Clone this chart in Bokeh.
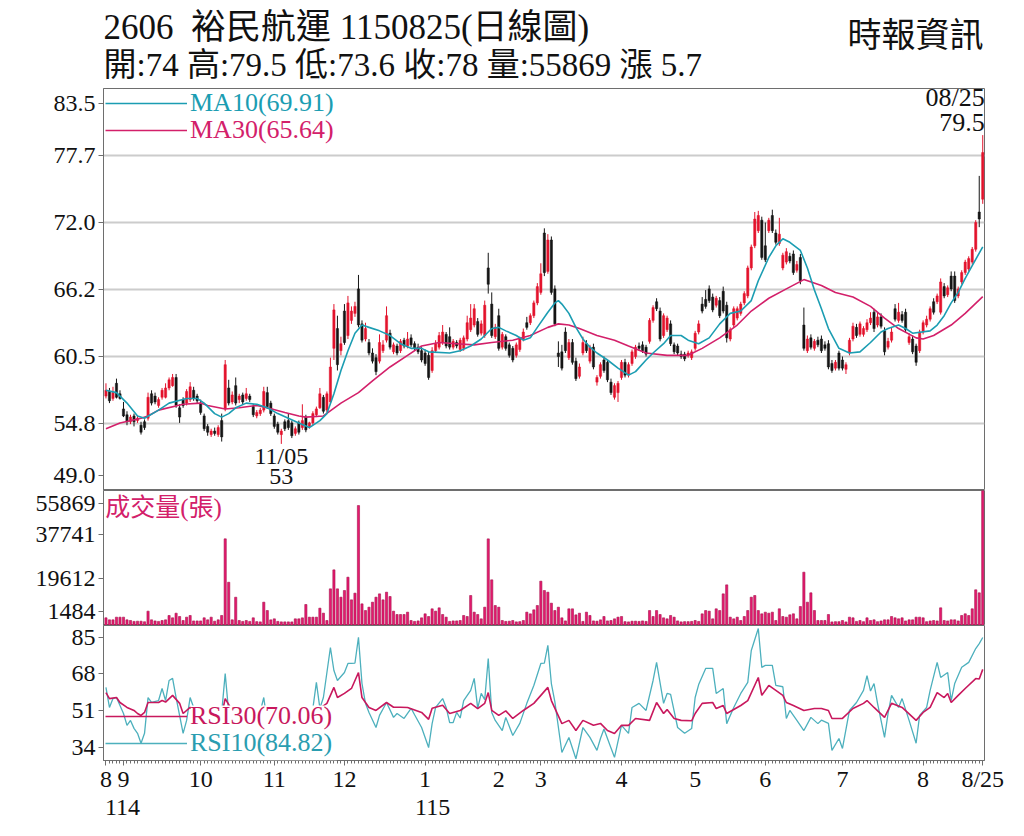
import numpy as np
from bokeh.plotting import figure
from bokeh.layouts import column
from bokeh.models import (ColumnDataSource, Range1d, FixedTicker, Legend,
                          LegendItem, BoxAnnotation, Label)
from bokeh.core.properties import value
from bokeh.embed import file_html
from bokeh.resources import INLINE

# ---- data ---------------------------------------------------------------
stock_code = "2606"
stock_name = "裕民航運"
chart_date = "1150825"
source_name = "時報資訊"
low_date = "11/05"
high_date = "08/25"

opens = [
    57.1, 57.5, 56.9, 58.2, 57.3, 56.0, 55.5, 54.9, 55.4, 55.0,
    54.6, 54.9, 55.2, 57.3, 57.1, 56.3, 57.0, 57.0, 57.8, 58.0,
    58.7, 56.1, 56.8, 56.5, 56.8, 57.6, 57.1, 56.5, 55.4, 54.5,
    53.8, 54.1, 53.8, 55.0, 56.0, 57.8, 56.6, 58.0, 56.8, 57.2,
    56.9, 57.1, 56.2, 55.4, 55.6, 55.9, 57.4, 56.5, 55.4, 54.7,
    53.8, 54.9, 55.0, 54.8, 53.9, 54.8, 54.4, 55.3, 54.5, 54.8,
    55.5, 56.1, 57.0, 55.9, 56.6, 61.2, 62.9, 61.0, 64.4, 62.3,
    63.6, 64.2, 66.3, 63.3, 62.0, 61.7, 60.8, 60.4, 60.1, 61.0,
    61.9, 62.5, 60.9, 61.4, 61.0, 61.9, 61.4, 62.1, 61.6, 61.3,
    61.0, 60.8, 60.6, 59.3, 61.0, 61.3, 61.7, 62.4, 62.2, 61.3,
    61.7, 61.1, 61.2, 62.0, 62.8, 63.2, 63.5, 62.5, 62.3, 68.1,
    65.0, 62.2, 64.0, 61.3, 62.2, 61.5, 61.2, 60.6, 61.1, 62.0,
    63.4, 63.4, 64.0, 65.1, 66.0, 71.1, 67.8, 70.5, 66.3, 60.8,
    60.9, 62.6, 60.4, 61.7, 60.1, 58.8, 60.8, 61.6, 60.1, 61.3,
    58.3, 58.8, 60.2, 60.0, 58.3, 57.0, 57.4, 58.7, 60.0, 58.9,
    59.9, 60.5, 61.4, 61.5, 61.3, 61.8, 63.6, 65.2, 64.4, 62.3,
    62.8, 63.3, 61.5, 61.4, 60.7, 60.7, 60.6, 60.4, 61.2, 62.6,
    65.0, 65.4, 66.3, 65.6, 64.9, 65.3, 66.1, 64.9, 62.0, 63.2,
    63.8, 64.2, 65.1, 65.7, 68.1, 70.0, 71.3, 72.2, 70.0, 71.3,
    72.6, 71.1, 70.2, 68.1, 68.6, 69.1, 69.3, 67.9, 69.0, 63.2,
    61.0, 62.1, 61.2, 61.9, 62.0, 61.5, 61.6, 59.9, 59.5, 60.8,
    60.2, 59.4, 60.8, 62.0, 63.0, 62.4, 62.4, 62.8, 63.4, 64.3,
    63.2, 63.9, 62.7, 61.3, 61.9, 64.6, 63.6, 64.1, 64.3, 61.7,
    62.0, 61.4, 61.0, 62.6, 63.2, 63.7, 65.2, 65.2, 64.3, 66.5,
    65.8, 67.4, 67.4, 65.7, 66.9, 67.7, 68.0, 68.6, 69.7, 72.9,
    74.0]
highs = [
    58.2, 57.8, 57.9, 58.6, 57.6, 56.6, 55.8, 55.5, 55.6, 55.4,
    54.9, 55.1, 57.4, 57.6, 57.4, 57.0, 57.8, 58.2, 58.7, 59.0,
    59.0, 56.4, 57.0, 57.7, 58.3, 57.9, 57.3, 56.8, 55.6, 54.7,
    54.3, 54.4, 54.6, 55.6, 60.2, 58.5, 57.5, 58.7, 57.3, 57.4,
    57.8, 57.3, 56.4, 55.9, 56.1, 57.9, 57.9, 56.7, 55.6, 54.9,
    54.3, 55.1, 55.6, 55.0, 54.5, 55.0, 56.4, 55.5, 54.9, 55.8,
    56.2, 57.8, 57.2, 57.5, 60.4, 65.0, 64.0, 62.2, 65.0, 65.7,
    64.8, 65.2, 67.5, 63.6, 63.4, 62.0, 61.2, 60.7, 62.4, 61.9,
    64.8, 62.8, 61.7, 61.6, 62.0, 62.1, 62.6, 62.4, 61.8, 61.6,
    61.3, 61.1, 60.9, 61.3, 61.9, 62.6, 63.2, 62.6, 63.0, 62.0,
    61.9, 62.1, 62.3, 64.0, 65.0, 65.0, 63.8, 63.6, 65.3, 69.4,
    66.0, 63.3, 64.6, 62.6, 62.4, 61.7, 61.4, 61.7, 62.2, 62.9,
    63.9, 64.2, 65.3, 66.8, 68.5, 71.5, 71.0, 70.8, 66.6, 61.8,
    61.5, 63.0, 62.0, 62.0, 60.4, 59.9, 62.2, 61.9, 61.5, 61.6,
    58.9, 60.0, 60.5, 60.2, 58.6, 58.2, 58.4, 60.2, 60.3, 60.0,
    61.1, 61.5, 61.7, 61.8, 61.5, 63.8, 64.9, 65.5, 64.7, 64.2,
    64.0, 63.6, 61.7, 61.6, 61.0, 60.9, 61.0, 61.1, 62.7, 63.6,
    65.6, 66.2, 66.6, 65.9, 65.7, 65.6, 66.5, 65.2, 63.0, 64.8,
    64.8, 65.2, 66.1, 68.3, 70.1, 72.9, 73.0, 72.5, 72.0, 72.4,
    73.1, 71.4, 72.4, 69.4, 69.8, 69.4, 69.6, 68.7, 69.3, 64.7,
    62.3, 62.4, 62.0, 62.2, 62.3, 61.8, 61.9, 60.2, 60.2, 61.0,
    60.5, 60.0, 62.1, 63.4, 63.3, 63.5, 63.1, 63.7, 64.3, 64.6,
    64.3, 64.2, 63.0, 62.1, 63.0, 65.0, 65.1, 64.4, 64.6, 62.5,
    62.3, 61.6, 62.8, 63.6, 64.0, 64.8, 65.5, 65.9, 67.2, 66.8,
    66.6, 67.8, 67.8, 66.5, 67.9, 68.8, 69.1, 69.9, 72.2, 76.0,
    79.5]
lows = [
    56.9, 56.5, 56.7, 56.9, 56.8, 55.3, 54.6, 54.7, 54.5, 54.8,
    53.8, 54.2, 55.0, 56.3, 56.4, 56.1, 56.8, 56.9, 57.6, 57.9,
    56.1, 54.8, 56.1, 56.3, 56.6, 56.7, 56.5, 55.5, 54.1, 53.7,
    53.6, 53.7, 53.6, 53.2, 55.8, 56.3, 56.4, 56.3, 56.5, 56.4,
    56.7, 56.6, 55.3, 55.2, 55.4, 55.7, 56.0, 55.4, 54.3, 53.8,
    53.0, 54.1, 54.2, 53.5, 53.7, 53.8, 54.2, 54.0, 54.3, 54.6,
    55.3, 56.0, 55.6, 55.7, 56.4, 60.2, 59.3, 60.6, 61.5, 62.0,
    63.3, 63.9, 63.0, 61.7, 61.8, 60.6, 59.9, 58.9, 59.9, 60.8,
    61.7, 61.1, 60.7, 60.6, 60.8, 61.2, 61.2, 61.3, 61.0, 60.7,
    60.0, 59.7, 58.5, 59.1, 60.8, 61.1, 61.5, 61.2, 61.1, 61.1,
    61.2, 60.9, 61.0, 61.8, 62.6, 63.0, 62.2, 62.3, 62.1, 65.9,
    62.1, 62.0, 61.0, 61.1, 61.0, 60.4, 60.0, 60.4, 60.9, 61.8,
    62.8, 63.2, 63.8, 64.9, 65.8, 67.4, 67.6, 65.8, 63.1, 59.6,
    59.3, 60.8, 60.2, 59.8, 58.4, 58.6, 60.6, 60.8, 59.9, 59.4,
    58.0, 58.6, 59.1, 58.3, 57.2, 56.8, 56.6, 58.5, 58.7, 58.7,
    59.7, 60.3, 61.0, 60.8, 60.5, 61.6, 63.4, 64.4, 61.8, 62.1,
    62.6, 61.4, 60.7, 60.6, 60.3, 60.1, 60.4, 60.2, 61.0, 62.4,
    64.2, 64.6, 65.1, 64.3, 64.7, 63.8, 64.2, 61.7, 61.8, 63.0,
    63.6, 64.0, 64.9, 65.5, 67.9, 69.8, 71.1, 68.8, 68.6, 71.1,
    71.1, 70.1, 70.0, 67.9, 68.4, 68.5, 67.5, 67.7, 66.7, 61.0,
    60.8, 61.1, 61.0, 61.3, 60.8, 61.0, 59.4, 59.1, 59.3, 59.3,
    59.3, 59.0, 60.6, 61.8, 62.1, 62.2, 62.2, 62.6, 63.2, 62.6,
    63.0, 62.9, 60.6, 61.1, 61.7, 63.5, 63.4, 63.4, 62.6, 61.5,
    60.7, 59.7, 60.8, 62.4, 63.0, 63.5, 64.1, 65.0, 64.1, 65.5,
    65.6, 66.1, 65.1, 65.5, 66.7, 67.5, 67.8, 68.4, 69.5, 71.6,
    73.6]
closes = [
    57.6, 56.7, 57.4, 57.0, 56.9, 55.4, 54.9, 55.3, 54.9, 55.2,
    54.0, 54.4, 57.0, 56.5, 56.6, 56.8, 57.6, 57.8, 58.5, 58.7,
    56.3, 55.3, 56.3, 57.5, 57.9, 56.9, 56.7, 55.7, 54.3, 54.0,
    54.1, 53.9, 54.4, 53.6, 59.8, 56.5, 57.2, 56.5, 57.1, 56.6,
    57.3, 56.8, 55.5, 55.7, 55.9, 57.5, 56.2, 55.6, 54.5, 54.0,
    54.1, 54.3, 54.4, 53.7, 54.3, 54.0, 55.0, 54.2, 54.8, 55.6,
    56.0, 57.3, 55.8, 57.3, 59.6, 64.5, 59.8, 61.6, 61.7, 65.1,
    64.4, 64.8, 63.2, 61.9, 62.9, 60.8, 60.1, 59.2, 61.7, 61.5,
    64.0, 61.3, 61.5, 60.8, 61.8, 61.4, 62.0, 61.5, 61.2, 60.9,
    60.2, 59.9, 58.7, 61.0, 61.6, 62.3, 62.6, 61.4, 61.3, 61.8,
    61.4, 61.9, 62.1, 63.4, 63.8, 64.6, 62.4, 63.3, 64.9, 66.7,
    62.3, 63.0, 61.2, 62.4, 61.2, 60.6, 60.2, 61.5, 62.0, 62.6,
    63.0, 64.0, 65.1, 66.5, 67.6, 67.7, 70.5, 66.0, 63.3, 60.5,
    59.5, 61.0, 61.7, 60.0, 58.6, 59.6, 61.7, 61.0, 61.3, 59.6,
    58.7, 59.8, 59.3, 58.5, 57.4, 58.0, 58.2, 60.0, 58.9, 59.8,
    60.9, 61.3, 61.2, 61.0, 60.7, 63.6, 64.7, 64.6, 62.0, 64.0,
    63.8, 61.6, 60.9, 60.8, 60.5, 60.3, 60.8, 60.9, 62.5, 63.3,
    64.4, 64.8, 65.3, 64.5, 65.5, 64.0, 64.4, 62.1, 62.8, 64.6,
    64.6, 65.0, 65.9, 68.1, 69.9, 72.3, 72.6, 69.0, 68.8, 72.2,
    71.3, 70.3, 71.0, 69.2, 69.5, 68.7, 67.7, 68.4, 67.0, 61.2,
    62.0, 61.3, 61.8, 61.5, 61.0, 61.2, 59.6, 59.3, 60.0, 59.5,
    59.5, 59.8, 61.9, 63.1, 62.3, 63.3, 62.9, 63.4, 63.8, 62.9,
    63.9, 63.1, 60.9, 61.8, 62.6, 63.7, 64.3, 63.6, 62.8, 62.2,
    60.9, 60.0, 62.6, 63.4, 63.7, 64.6, 64.3, 65.7, 66.9, 65.7,
    66.4, 66.3, 65.3, 66.3, 67.7, 68.6, 68.9, 69.7, 72.0, 72.3,
    78.0]
volumes = [
    3170, 2340, 2340, 3450, 3450, 3450, 2340, 2070, 1700, 1790,
    1790, 1550, 5930, 2340, 1900, 1700, 2070, 2340, 4140, 3170,
    5100, 3720, 2070, 3450, 4140, 1900, 1900, 1900, 3170, 2340,
    3450, 1790, 2340, 4140, 35850, 17900, 2340, 11700, 2070, 1700,
    2070, 1700, 3170, 1600, 1500, 9650, 6200, 2340, 2760, 1700,
    1500, 1500, 1500, 1484, 2760, 2760, 3170, 8690, 3450, 3450,
    3450, 7170, 5100, 2070, 15170, 23030, 15170, 11720, 14480, 20000,
    10620, 13380, 49640, 8960, 6200, 7580, 9650, 11720, 13100, 10620,
    13790, 12000, 5930, 4550, 4550, 4550, 5520, 2070, 1700, 1900,
    3170, 4830, 3720, 6900, 5930, 7310, 4550, 3450, 1700, 1900,
    1900, 2070, 4140, 3720, 12410, 5520, 4550, 2760, 7580, 35850,
    18900, 8270, 7580, 2070, 1700, 1790, 2070, 1500, 1600, 2070,
    5520, 4830, 6480, 8270, 18340, 14480, 13790, 9240, 6200, 7580,
    3170, 1900, 6900, 6900, 4410, 5100, 1700, 5520, 4140, 1900,
    1790, 2340, 3720, 1900, 2070, 2760, 3450, 3720, 1600, 1500,
    1790, 1800, 1700, 1900, 1700, 6200, 3720, 6200, 4550, 3170,
    2760, 4140, 3450, 1900, 1500, 1600, 1600, 1700, 2070, 1700,
    4830, 6200, 5930, 2760, 6900, 6200, 13100, 16820, 3450, 2760,
    3450, 2070, 3720, 6200, 11720, 12410, 6200, 4830, 5520, 5100,
    5520, 2070, 6900, 3720, 3450, 4410, 4830, 2760, 7860, 22060,
    9650, 13510, 6200, 2070, 2070, 2070, 4550, 1500, 1600, 1600,
    2070, 1500, 3450, 3170, 1700, 2070, 1600, 3170, 2070, 2340,
    1600, 1900, 2340, 2340, 3720, 3170, 2760, 3170, 1900, 2340,
    2340, 3450, 3450, 3170, 1600, 1900, 2070, 1900, 7310, 2070,
    1900, 2340, 2340, 1900, 4140, 4830, 4140, 6900, 14760, 13510,
    55869]

ma10_days = [0, 3, 6, 9, 11, 15, 18, 23, 26, 28, 31, 33, 35, 37, 40, 43, 46, 49, 52, 55,
             58, 61, 63, 65, 67, 69, 71, 73, 75, 78, 81, 84, 87, 90, 92, 98, 101, 104, 107, 110,
             112, 114, 117, 119, 121, 123, 126, 128, 129, 130, 132, 134, 136, 138, 140, 143, 146, 149, 151, 154,
             156, 159, 161, 164, 166, 169, 172, 175, 178, 181, 184, 186, 189, 191, 193, 195, 198, 200, 202, 204,
             206, 209, 212, 215, 218, 221, 223, 226, 228, 230, 235, 237, 239, 241, 243, 245, 247, 250]
ma10 = [57.6, 57.4, 56.5, 55.4, 55.2, 55.9, 56.5, 56.9, 56.9, 56.5, 55.6, 55.3, 55.6, 56.1, 56.5, 56.4, 56.1, 55.6, 55.2, 54.8,
        54.4, 55.0, 55.6, 57.3, 59.3, 61.0, 62.5, 63.2, 63.0, 62.7, 62.3, 61.6, 61.2, 61.2, 60.9, 60.8, 61.0, 61.4, 62.0, 62.9,
        63.0, 62.7, 62.3, 61.9, 62.1, 63.0, 64.3, 65.1, 65.3, 65.0, 64.2, 63.0, 62.0, 61.3, 60.8, 60.2, 59.5, 58.9, 59.2, 60.2,
        60.8, 61.6, 62.3, 62.3, 61.9, 61.6, 62.1, 63.3, 64.2, 64.4, 65.3, 67.0, 69.0, 70.0, 70.6, 70.3, 69.6, 68.1, 66.2, 64.6,
        62.9, 61.2, 60.8, 60.9, 61.7, 62.6, 62.9, 63.2, 62.9, 62.5, 62.7, 63.2, 64.0, 65.1, 66.0, 67.2, 68.3, 69.91]
ma30_days = [0, 4, 10, 12, 15, 22, 27, 29, 34, 38, 43, 46, 51, 55, 57, 62, 67, 72, 76, 81,
             86, 90, 95, 100, 105, 110, 116, 121, 126, 129, 132, 135, 140, 145, 149, 154, 160, 166, 170, 175,
             180, 184, 189, 194, 199, 204, 208, 213, 218, 222, 226, 231, 233, 236, 241, 245, 250]
ma30 = [54.3, 54.8, 55.2, 55.4, 55.9, 56.4, 56.5, 56.3, 56.0, 56.1, 56.3, 56.1, 55.7, 55.4, 55.3, 55.4, 56.5, 57.4, 58.4, 59.6,
        60.6, 61.4, 61.7, 61.6, 61.5, 61.7, 61.9, 62.3, 63.0, 63.3, 63.2, 62.9, 62.3, 61.9, 61.4, 60.8, 60.6, 60.6, 61.2, 62.1,
        63.2, 64.4, 65.5, 66.3, 67.1, 66.6, 66.0, 65.6, 64.8, 63.8, 62.9, 62.1, 62.0, 62.3, 63.2, 64.2, 65.64]

rsi10_days = [0, 1, 2, 3, 5, 6, 7, 8, 9, 10, 11, 12, 13, 15, 16, 17, 18, 19, 20, 22,
              23, 24, 25, 26, 28, 31, 33, 34, 35, 37, 40, 43, 45, 46, 48, 51, 54, 57, 59, 60,
              61, 62, 64, 65, 66, 68, 69, 70, 71, 72, 73, 74, 75, 77, 78, 80, 82, 83, 85, 87,
              88, 90, 92, 93, 94, 96, 97, 98, 99, 100, 101, 102, 104, 105, 106, 107, 108, 109, 110, 111,
              113, 114, 116, 118, 120, 122, 124, 125, 126, 127, 128, 130, 132, 134, 136, 138, 140, 141, 142, 144,
              145, 147, 149, 150, 152, 154, 156, 157, 159, 160, 161, 163, 165, 167, 168, 169, 171, 173, 174, 176,
              177, 179, 181, 183, 184, 186, 187, 188, 190, 191, 193, 194, 195, 197, 199, 201, 203, 204, 206, 207,
              209, 210, 212, 214, 216, 217, 218, 219, 220, 222, 223, 224, 226, 227, 229, 231, 232, 234, 235, 237,
              238, 240, 241, 242, 244, 246, 248, 249, 250]
rsi10 = [61.7, 52.4, 56.5, 57.0, 49.6, 44.1, 46.4, 42.7, 40.4, 35.8, 40.4, 57.0, 54.7, 55.6, 61.2, 55.6, 64.9, 65.9, 57.0, 40.4,
         46.4, 57.0, 52.4, 47.0, 45.0, 42.0, 50.0, 68.1, 50.0, 47.0, 45.0, 44.0, 57.0, 45.0, 40.0, 38.0, 42.0, 45.0, 52.0, 64.0,
         52.0, 57.0, 80.2, 69.5, 64.9, 68.6, 72.8, 72.8, 73.0, 84.9, 63.5, 54.3, 50.1, 43.1, 48.7, 54.7, 47.8, 49.6, 47.3, 52.0,
         49.0, 43.1, 33.8, 44.9, 52.4, 56.5, 52.4, 45.4, 45.4, 50.1, 47.5, 55.6, 60.3, 65.9, 52.0, 58.9, 56.0, 75.1, 50.1, 46.4,
         41.7, 47.8, 39.4, 45.0, 54.3, 62.6, 72.8, 73.0, 81.2, 63.5, 55.0, 31.5, 38.5, 28.6, 43.1, 38.5, 32.5, 38.0, 42.4, 33.6,
         29.3, 44.1, 40.4, 52.4, 54.3, 51.0, 64.9, 73.3, 54.3, 58.9, 58.5, 43.1, 40.4, 42.6, 57.0, 63.0, 70.5, 70.5, 58.9, 61.2,
         44.9, 52.4, 58.9, 64.0, 78.8, 89.0, 71.0, 71.9, 71.9, 62.6, 62.0, 47.3, 51.0, 46.4, 41.7, 47.8, 44.9, 46.5, 45.0, 32.5,
         38.0, 33.4, 51.0, 54.7, 60.3, 67.2, 60.0, 63.5, 54.3, 38.5, 49.6, 58.0, 52.4, 56.5, 46.4, 35.8, 48.7, 52.4, 60.3, 73.3,
         66.3, 68.6, 55.6, 63.5, 71.0, 73.3, 79.7, 82.0, 84.82]
rsi30_days = [0, 1, 3, 4, 6, 8, 9, 10, 11, 12, 15, 16, 17, 19, 21, 22, 24, 25, 26, 30,
              33, 34, 36, 40, 44, 48, 53, 57, 60, 61, 63, 65, 66, 68, 70, 72, 73, 74, 75, 77,
              80, 82, 84, 86, 90, 92, 93, 96, 98, 101, 104, 106, 108, 109, 110, 112, 114, 116, 119, 122,
              126, 127, 130, 132, 134, 136, 139, 141, 143, 145, 147, 149, 151, 155, 157, 159, 160, 162, 164, 167,
              168, 170, 173, 174, 176, 177, 181, 183, 186, 187, 189, 191, 193, 194, 196, 199, 202, 204, 206, 207,
              210, 213, 216, 217, 219, 222, 224, 227, 231, 233, 235, 237, 239, 240, 241, 243, 245, 248, 249, 250]
rsi30 = [59.3, 56.5, 57.0, 54.7, 52.4, 51.0, 49.6, 48.7, 50.1, 54.7, 54.7, 55.6, 54.9, 58.0, 54.3, 49.6, 52.4, 51.0, 50.0, 48.0,
         49.0, 56.5, 51.0, 50.0, 49.0, 47.0, 46.0, 48.0, 50.0, 52.0, 54.3, 61.7, 57.0, 58.9, 61.2, 68.6, 57.0, 54.7, 52.4, 51.0,
         54.7, 52.5, 52.5, 52.4, 50.1, 46.9, 52.0, 53.4, 49.6, 51.0, 54.3, 51.9, 54.3, 59.3, 51.0, 48.7, 50.8, 47.3, 51.0, 54.3,
         61.7, 55.6, 44.9, 46.4, 41.7, 46.4, 44.1, 45.0, 41.7, 40.3, 44.1, 44.1, 47.3, 46.4, 54.7, 49.6, 51.4, 47.3, 46.4, 46.2,
         49.6, 54.3, 54.7, 51.9, 53.3, 49.6, 53.3, 55.6, 66.3, 58.0, 62.6, 60.3, 58.0, 54.7, 53.3, 51.0, 51.9, 51.9, 51.0, 47.3,
         47.3, 51.9, 54.3, 55.6, 52.4, 47.8, 54.3, 52.4, 46.4, 50.1, 52.4, 59.3, 57.0, 58.9, 54.7, 58.0, 61.2, 65.8, 65.6, 70.06]

month_days = [0, 5, 27, 48, 68, 91, 112, 124, 147, 168, 188, 210, 233, 250]
month_labels = ["8", "9", "10", "11", "12", "1", "2", "3", "4", "5", "6", "7", "8", "8/25"]
year_days = [0, 91]
year_labels = ["114", "115"]

price_ticks = [49.0, 54.75, 60.5, 66.25, 72.0, 77.75, 83.5]
price_labels = ["49.0", "54.8", "60.5", "66.2", "72.0", "77.7", "83.5"]
volume_ticks = [1484, 19612, 37741, 55869]
rsi_ticks = [34, 51, 68, 85]

# ---- style ---------------------------------------------------------------
FONT = "Liberation Serif, Noto Sans CJK TC"
RED = "#e3132c"
BLACK = "#151515"
MA10_C = "#1b9db2"
MA30_C = "#d3206a"
VOL_FILL = "#e6196f"
VOL_LINE = "#a5124c"
RSI10_C = "#4db0bd"
RSI30_C = "#c8185d"
AXIS_C = "#6e6e6e"
GRID_C = "#cccccc"

LEFT, RIGHT, FW = 103, 25, 881
HEAD_H, PRICE_TOP = 82, 6
PRICE_H, VOL_H, RSI_H = 402, 135, 135
AXIS_H, FOOT_H = 34, 38
RSI_LO, RSI_HI = 27.8, 90.4

n = len(closes)
days = list(range(n))
x_range = Range1d(-0.7, n - 0.5)


def panel(height, y_range, **kw):
    opts = dict(frame_width=FW, frame_height=height, x_range=x_range, y_range=y_range,
                min_border_left=LEFT, min_border_right=RIGHT, min_border_top=0,
                min_border_bottom=0, toolbar_location=None, tools="",
                output_backend="svg", x_axis_location=None)
    opts.update(kw)
    f = figure(**opts)
    f.background_fill_color = "white"
    f.border_fill_color = "white"
    f.outline_line_color = AXIS_C
    f.xgrid.grid_line_color = None
    f.ygrid.grid_line_color = None
    return f


def text_strip(height, xr):
    f = figure(frame_width=FW, frame_height=height, x_range=xr,
               y_range=Range1d(height, 0), min_border_left=LEFT, min_border_right=RIGHT,
               min_border_top=0, min_border_bottom=0, toolbar_location=None, tools="",
               output_backend="svg", x_axis_location=None, y_axis_location=None)
    f.grid.grid_line_color = None
    f.outline_line_color = None
    return f


def style_y(f, positions, labels):
    ax = f.yaxis[0]
    ax.ticker = FixedTicker(ticks=positions)
    ax.major_label_overrides = dict(zip(positions, labels))
    ax.minor_tick_line_color = None
    ax.major_tick_in = 0
    ax.major_tick_out = 5
    ax.axis_line_color = AXIS_C
    ax.major_tick_line_color = AXIS_C
    ax.major_label_text_font = FONT
    ax.major_label_text_font_size = "24px"
    ax.major_label_text_color = "#111111"
    ax.major_label_standoff = 3


def add_legend(f, renderer, text, color, loc, glyph_w):
    leg = Legend(items=[LegendItem(label=value(text), renderers=[renderer])],
                 location=loc, glyph_width=glyph_w, glyph_height=20, label_height=26,
                 label_standoff=3, padding=0, margin=0, spacing=0,
                 label_text_font=FONT, label_text_font_size="26px",
                 label_text_color=color, border_line_color=None,
                 background_fill_alpha=0)
    f.add_layout(leg)


# ---- header ----------------------------------------------------------------
hdr = text_strip(HEAD_H, Range1d(0, FW))
change = closes[-1] - closes[-2]
title1 = f"{stock_code}\u00a0 {stock_name} {chart_date}(日線圖)"
title2 = (f"開:{opens[-1]:g} 高:{highs[-1]:g} 低:{lows[-1]:g} 收:{closes[-1]:g} "
          f"量:{volumes[-1]} 漲 {change:.1f}")
hdr.text(x=[0], y=[27], text=[title1], text_font=value(FONT), text_font_size="35px",
         text_baseline="middle", text_align="left", text_color="#111111")
hdr.text(x=[0], y=[64], text=[title2], text_font=value(FONT), text_font_size="33px",
         text_baseline="middle", text_align="left", text_color="#111111")
hdr.text(x=[FW - 1], y=[35], text=[source_name], text_font=value(FONT), text_font_size="34px",
         text_baseline="middle", text_align="right", text_color="#111111")

# ---- price panel -------------------------------------------------------------
p = panel(PRICE_H, Range1d(price_ticks[0], price_ticks[-1]), min_border_top=PRICE_TOP)
p.ygrid.grid_line_color = GRID_C
p.ygrid.grid_line_width = 2
p.ygrid.ticker = FixedTicker(ticks=price_ticks[1:-1])
nudge = 1.3
price_pos = [price_ticks[0] + nudge] + price_ticks[1:-1] + [price_ticks[-1] - nudge]
style_y(p, price_pos, price_labels)

o_arr = np.array(opens)
c_arr = np.array(closes)
candle = ColumnDataSource(dict(
    x=days, high=highs, low=lows,
    top=np.maximum(o_arr, c_arr), bottom=np.minimum(o_arr, c_arr),
    color=[RED if c >= o else BLACK for o, c in zip(opens, closes)]))
p.segment(x0="x", y0="low", x1="x", y1="high", line_color="color", line_width=1, source=candle)
p.vbar(x="x", width=0.64, top="top", bottom="bottom", fill_color="color",
       line_color="color", line_width=0.5, source=candle)

r_ma30 = p.line(ma30_days, ma30, line_color=MA30_C, line_width=1.6)
r_ma10 = p.line(ma10_days, ma10, line_color=MA10_C, line_width=1.6)
add_legend(p, r_ma10, f"MA10({ma10[-1]:.2f})", MA10_C, (2, 372), 82)
add_legend(p, r_ma30, f"MA30({ma30[-1]:.2f})", MA30_C, (2, 345), 82)

lo_i = int(np.argmin(lows))
hi_i = int(np.argmax(highs))
for txt, off in [(low_date, -12), (f"{lows[lo_i]:g}", -33)]:
    p.add_layout(Label(x=lo_i, y=lows[lo_i], text=txt, y_offset=off, text_align="center",
                       text_baseline="middle", text_font=FONT, text_font_size="24px",
                       text_color="#111111"))
for txt, off in [(high_date, 38), (f"{highs[hi_i]:g}", 13)]:
    p.add_layout(Label(x=hi_i, y=highs[hi_i], text=txt, y_offset=off, x_offset=2,
                       text_align="right", text_baseline="middle", text_font=FONT,
                       text_font_size="26px", text_color="#111111"))

# ---- volume panel ------------------------------------------------------------
vmax = volume_ticks[-1]
v = panel(VOL_H, Range1d(0, vmax))
vnudge = vmax * 13 / VOL_H
vol_pos = [volume_ticks[0] + vmax * 10 / VOL_H] + volume_ticks[1:-1] + [vmax - vnudge]
style_y(v, vol_pos, [str(t) for t in volume_ticks])
v.vbar(x=days, top=volumes, width=0.62, fill_color=VOL_FILL, line_color=VOL_LINE, line_width=0.6)
v.add_layout(Label(x=-0.2, y=vmax * (1 - 17 / VOL_H), text="成交量(張)", text_font=FONT,
                   text_font_size="25px", text_color=MA30_C, text_baseline="middle"))

# ---- RSI panel ---------------------------------------------------------------
r = panel(RSI_H, Range1d(RSI_LO, RSI_HI), x_axis_location="below", min_border_bottom=AXIS_H)
style_y(r, rsi_ticks, [str(t) for t in rsi_ticks])
r_rsi10 = r.line(rsi10_days, rsi10, line_color=RSI10_C, line_width=1.3)
r_rsi30 = r.line(rsi30_days, rsi30, line_color=RSI30_C, line_width=1.6)
r.add_layout(BoxAnnotation(left=24.2, right=65.8, bottom=RSI_LO, top=53.3,
                           fill_color="white", fill_alpha=1, line_color=None))
add_legend(r, r_rsi30, f"RSI30({rsi30[-1]:.2f})", RSI30_C, (2, 29), 82)
add_legend(r, r_rsi10, f"RSI10({rsi10[-1]:.2f})", "#2a9db0", (2, 2), 82)

xa = r.xaxis[0]
xa.ticker = FixedTicker(ticks=month_days, minor_ticks=days)
xa.major_label_overrides = dict(zip(month_days, month_labels))
xa.axis_line_color = AXIS_C
xa.major_tick_line_color = AXIS_C
xa.minor_tick_line_color = AXIS_C
xa.major_tick_in = 0
xa.major_tick_out = 5
xa.minor_tick_in = 0
xa.minor_tick_out = 3
xa.major_label_standoff = 0
xa.major_label_text_font = FONT
xa.major_label_text_font_size = "24px"
xa.major_label_text_color = "#111111"

# ---- year row under the month axis -----------------------------------------
foot = text_strip(FOOT_H, x_range)
foot.text(x=year_days, y=[13] * len(year_days), text=year_labels, x_offset=[-1, -10],
          text_font=value(FONT), text_font_size="24px", text_align="left",
          text_baseline="middle", text_color="#111111")

layout = column(hdr, p, v, r, foot, spacing=0)
open("out.html", "w").write(file_html(layout, INLINE))
